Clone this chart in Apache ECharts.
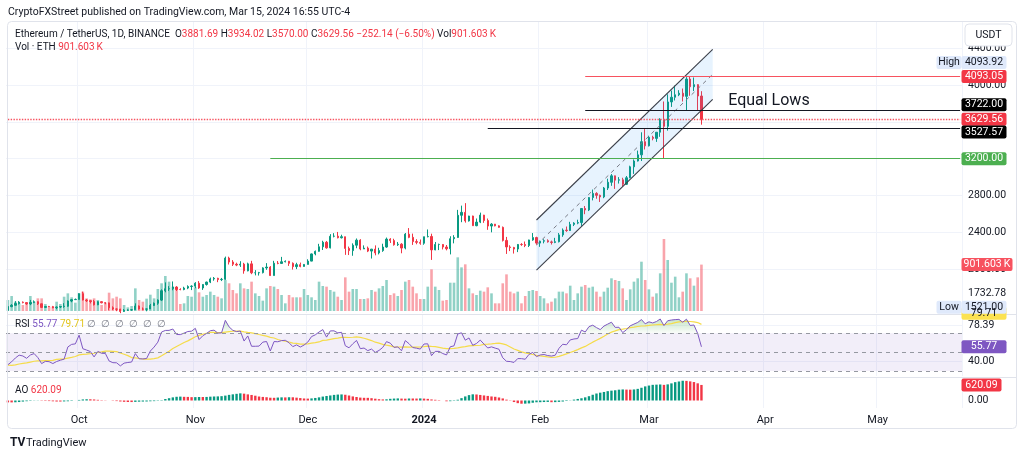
<!DOCTYPE html>
<html>
<head>
<meta charset="utf-8">
<script src="https://cdn.jsdelivr.net/npm/echarts@6/dist/echarts.min.js"></script>
<style>
  html, body { margin: 0; padding: 0; background: #fff; }
  #chart { width: 1024px; height: 458px; }
</style>
</head>
<body>
<div id="chart"></div>
<script>
// ETH/USDT daily, Binance, 12 Sep 2023 .. 15 Mar 2024 (open = previous close)
const closes = [
  1593,1607,1626,1641,1636,1622,1638,1645,1623,1584,1594,1592,1580,1588,1593,1597,1653,1668,1671,
  1733,1664,1656,1647,1612,1646,1634,1633,1580,1566,1565,1540,1553,1556,1558,1599,1566,1565,1567,1605,1629,1663,1765,1786,1787,1805,1779,1778,1794,1811,1815,
  1847,1795,1833,1859,1893,1900,1886,1889,2120,2077,2053,2044,2054,1981,2057,1960,1960,1962,2013,2022,1930,2064,2062,2080,2085,2063,2027,2048,2029,2051,
  2087,2165,2193,2243,2292,2231,2357,2358,2341,2352,2225,2201,2260,2315,2219,2228,2196,2217,2176,2201,2240,2326,2310,2265,2271,2229,2380,2345,2299,2291,2281,
  2352,2355,2209,2268,2268,2240,2221,2330,2344,2585,2617,2524,2577,2472,2511,2587,2528,2468,2489,2470,2454,2312,2241,2235,2218,2268,2267,2257,2317,2343,2283,
  2304,2309,2296,2290,2298,2372,2424,2419,2486,2500,2506,2659,2643,2778,2823,2802,2785,2881,2944,3014,2967,2971,2922,2993,3112,3175,3242,3385,3340,
  3433,3421,3488,3628,3552,3817,3868,3895,3912,3878,4066,3982,4005,3881.69,3629.56
];
const highs = [
  1621,1619,1652,1652,1648,1640,1665,1660,1650,1625,1600,1600,1600,1595,1598,1630,1660,1675,1680,
  1737,1755,1673,1660,1665,1652,1650,1640,1637,1595,1571,1569,1566,1563,1566,1628,1605,1583,1572,1622,1637,1671,1780,1856,1815,1866,1815,1792,1808,1824,1824,
  1858,1870,1836,1864,1908,1914,1906,1904,2136,2135,2098,2070,2086,2068,2070,2090,1989,1970,2020,2065,2032,2090,2088,2133,2095,2089,2073,2069,2071,2054,
  2107,2170,2202,2275,2308,2306,2380,2391,2404,2374,2352,2245,2280,2333,2325,2258,2245,2220,2258,2232,2276,2343,2336,2330,2295,2282,2392,2446,2386,2325,2322,
  2352,2431,2385,2295,2277,2272,2262,2357,2369,2644,2690,2717,2580,2581,2550,2614,2590,2550,2500,2491,2476,2463,2350,2259,2242,2273,2282,2300,2320,2392,2352,
  2310,2325,2324,2310,2340,2392,2442,2463,2514,2510,2537,2664,2686,2783,2865,2836,2810,2893,2983,3033,3016,3000,2993,3012,3124,3192,3288,3487,3522,
  3450,3450,3490,3640,3822,3900,3940,3995,3945,3963,4087,4093.92,4083,4010,3934.02
];
const lows = [
  1550,1585,1603,1615,1628,1612,1608,1630,1610,1580,1580,1588,1575,1564,1578,1580,1590,1640,1665,
  1669,1660,1643,1627,1605,1608,1628,1618,1553,1555,1543,1521,1535,1545,1548,1557,1560,1553,1542,1565,1600,1612,1653,1748,1763,1770,1762,1770,1770,1782,1772,
  1792,1785,1774,1821,1848,1874,1858,1870,1883,2050,2034,2032,2024,1950,1976,1945,1932,1930,1953,1992,1925,1930,2053,2060,2073,2035,1995,2000,2020,2027,
  2050,2085,2150,2190,2208,2222,2225,2345,2334,2333,2155,2153,2145,2227,2205,2218,2185,2115,2150,2160,2188,2232,2284,2255,2252,2172,2215,2336,2263,2270,2265,
  2265,2345,2100,2205,2207,2214,2204,2160,2280,2340,2510,2505,2517,2470,2466,2500,2503,2427,2400,2465,2450,2300,2165,2196,2169,2185,2253,2239,2240,2308,2265,
  2242,2280,2288,2267,2282,2290,2351,2405,2414,2468,2488,2470,2597,2631,2747,2765,2730,2771,2860,2905,2872,2930,2899,2914,2988,3035,3170,3175,3300,
  3333,3400,3383,3438,3200,3505,3763,3833,3880,3822,3722,3884,3935,3720,3570
];
// volume, thousand ETH
const volumes = [
  214,291,181,150,117,136,291,181,246,246,136,84,84,181,136,278,343,266,162,
  343,376,246,227,246,214,117,162,356,246,278,246,117,71,97,440,214,181,240,317,246,427,538,680,570,473,460,136,149,291,278,
  460,363,278,311,376,311,278,246,602,538,408,343,538,440,427,570,343,291,201,440,486,473,427,311,149,311,266,266,266,427,
  311,266,214,570,486,473,408,376,278,214,654,376,427,427,233,233,246,408,376,440,486,602,311,343,291,408,570,602,473,343,233,
  233,473,810,473,408,201,214,550,550,1043,848,907,440,343,311,395,376,460,343,149,149,538,712,376,343,376,149,291,389,408,389,
  291,246,149,181,246,376,376,343,492,214,343,473,505,453,473,376,278,376,453,635,602,583,440,214,421,570,635,958,602,
  421,278,343,732,1399,991,550,667,266,376,732,635,492,654,901.603
];
// 1 Aug .. 11 Sep 2023, only used so RSI and AO have history at the left edge
const warmCloses = [
  1868,1838,1834,1828,1834,1826,1825,1854,1854,1849,1850,1851,1843,1842,1826,1806,1685,1661,1681,1682,
  1667,1635,1686,1653,1646,1642,1657,1652,1729,1705,1646,1628,1636,1635,1629,1634,1636,1645,1635,1635,1617,1552
];
const warmHighs = [
  1873,1877,1847,1858,1841,1837,1839,1870,1872,1862,1855,1858,1855,1862,1847,1830,1810,1700,1690,1692,
  1684,1682,1700,1690,1660,1650,1663,1663,1745,1732,1719,1659,1646,1648,1642,1642,1660,1652,1660,1642,1636,1620
];
const warmLows = [
  1813,1825,1822,1819,1820,1819,1801,1824,1840,1842,1841,1846,1835,1832,1815,1800,1550,1627,1656,1666,
  1640,1550,1625,1640,1631,1635,1637,1633,1642,1700,1632,1610,1623,1627,1618,1605,1617,1620,1623,1629,1600,1530
];

// chart drawings
const rayStart = ['2023-11-21', '2024-01-18', '2024-02-13', '2024-02-13'];
const rayPrice = [3200, 3527.57, 3722, 4093.05];
const lastPrice = 3629.56;
const channelDates = ['2024-01-31', '2024-03-18'];
const channelUpper = [2534, 4389];
const channelLower = [1990, 3846];
const noteDate = '2024-04-02';
const notePrice = 3827;

const priceTicks = [1732.78, 2000, 2400, 2800, 3200, 3600, 4000, 4400];
const priceGrid = [2000, 2400, 2800, 3200, 3600, 4000, 4400];
const rsiTicks = [40, 78.39];
const monthNames = ['Jan','Feb','Mar','Apr','May','Jun','Jul','Aug','Sep','Oct','Nov','Dec'];

// category axis: one slot per day up to 23 May 2024
const dates = [];
for (let t = Date.UTC(2023, 8, 12); t <= Date.UTC(2024, 4, 23); t += 864e5) {
  dates.push(new Date(t).toISOString().slice(0, 10));
}

const FONT = "'Liberation Sans Narrow', Roboto, sans-serif";
const TXT = '#131722';
const UP = '#089981', DOWN = '#f23645';

const opens = closes.map((c, i) => i === 0 ? warmCloses[warmCloses.length - 1] : closes[i - 1]);
const candleData = closes.map((c, i) => [opens[i], c, lows[i], highs[i]]);
const volData = volumes.map((v, i) => ({
  value: v,
  itemStyle: { color: closes[i] >= opens[i] ? 'rgba(8,153,129,0.45)' : 'rgba(242,54,69,0.45)' }
}));

// indicators
function sma(src, n) {
  return src.map((v, i) => {
    if (i < n - 1) return null;
    let s = 0;
    for (let k = i - n + 1; k <= i; k++) { if (src[k] == null) return null; s += src[k]; }
    return s / n;
  });
}
function rsi(src, n) {
  const out = src.map(() => null);
  let up = 0, dn = 0;
  for (let i = 1; i <= n; i++) {
    const ch = src[i] - src[i - 1];
    up += Math.max(ch, 0); dn += Math.max(-ch, 0);
  }
  up /= n; dn /= n;
  out[n] = 100 - 100 / (1 + up / dn);
  for (let i = n + 1; i < src.length; i++) {
    const ch = src[i] - src[i - 1];
    up = (up * (n - 1) + Math.max(ch, 0)) / n;
    dn = (dn * (n - 1) + Math.max(-ch, 0)) / n;
    out[i] = dn === 0 ? 100 : 100 - 100 / (1 + up / dn);
  }
  return out;
}
const off = warmCloses.length;
const allClose = warmCloses.concat(closes);
const allHigh = warmHighs.concat(highs);
const allLow = warmLows.concat(lows);
const hl2 = allHigh.map((h, i) => (h + allLow[i]) / 2);
const rsiAll = rsi(allClose, 14);
const rsiMaAll = sma(rsiAll, 14);
const s5 = sma(hl2, 5), s34 = sma(hl2, 34);
const aoAll = hl2.map((v, i) => s5[i] == null || s34[i] == null ? null : s5[i] - s34[i]);

const rsiVals = rsiAll.slice(off);
const rsiMa = rsiMaAll.slice(off);
const obBase = rsiVals.map(() => 70);
const obFill = rsiVals.map(v => Math.max(0, v - 70));
const aoData = aoAll.slice(off).map((v, i) => ({
  value: v,
  itemStyle: { color: v >= aoAll[off + i - 1] ? UP : DOWN }
}));

const L = 6, W = 956;
const isMonthStart = (i, v) => v.slice(8) === '01';
function xAxis(gridIndex, showLabel, showSplit) {
  return {
    type: 'category', gridIndex, data: dates, boundaryGap: true,
    axisLine: { show: false }, axisTick: { show: false },
    axisLabel: {
      show: showLabel, interval: isMonthStart, margin: 7, color: TXT, fontSize: 11, fontFamily: FONT,
      formatter: v => v === '2024-01-01' ? '{y|2024}' : monthNames[+v.slice(5, 7) - 1],
      rich: { y: { fontWeight: 'bold', color: TXT, fontSize: 11, fontFamily: FONT } }
    },
    splitLine: { show: showSplit, interval: isMonthStart, lineStyle: { color: '#f0f3fa' } }
  };
}
function yAxis(gridIndex, min, max, ticks, grid, show) {
  return {
    type: 'value', gridIndex, position: 'right', min, max, show,
    axisLine: { show: false },
    axisTick: { show: false, customValues: grid },
    splitLine: { show: grid.length > 0, lineStyle: { color: '#f0f3fa' } },
    axisLabel: {
      customValues: ticks, formatter: v => v.toFixed(2), margin: 6,
      color: TXT, fontSize: 10.5, fontFamily: FONT
    }
  };
}

const rayStyle = [
  { color: '#4caf50', width: 1.2, type: 'solid' },
  { color: '#131722', width: 1.2, type: 'solid' },
  { color: '#131722', width: 1.2, type: 'solid' },
  { color: '#f7525f', width: 1.2, type: 'solid' }
];
const lastDate = dates[dates.length - 1];
const rayLines = rayStart.map((s, k) => [
  { coord: [s, rayPrice[k]], lineStyle: rayStyle[k] },
  { coord: [lastDate, rayPrice[k]] }
]);
rayLines.push([
  { coord: [dates[0], lastPrice], lineStyle: { color: '#f7525f', width: 1.4, type: 'dotted' } },
  { coord: [lastDate, lastPrice] }
]);

const chart = echarts.init(document.getElementById('chart'));
chart.setOption({
  animation: false,
  grid: [
    { left: L, width: W, top: 22, height: 291 },
    { left: L, width: W, top: 22, height: 289 },
    { left: L, width: W, top: 315, height: 61 },
    { left: L, width: W, top: 378, height: 30 }
  ],
  xAxis: [xAxis(0, false, true), xAxis(1, false, false), xAxis(2, false, true), xAxis(3, true, true)],
  yAxis: [
    yAxis(0, 1523, 4686, priceTicks, priceGrid, true),
    yAxis(1, 0, 5615, [], [], false),
    yAxis(2, 24.69, 89.42, rsiTicks, rsiTicks, true),
    yAxis(3, -300, 900, [0], [], true)
  ],
  series: [
    {
      type: 'bar', xAxisIndex: 1, yAxisIndex: 1, data: volData, barWidth: 2.6, z: 1, silent: true
    },
    {
      type: 'candlestick', xAxisIndex: 0, yAxisIndex: 0, data: candleData, barWidth: 1.8, z: 3,
      itemStyle: { color: UP, color0: DOWN, borderColor: UP, borderColor0: DOWN, borderWidth: 1 },
      markLine: {
        silent: true, symbol: 'none', label: { show: false }, data: rayLines
      }
    },
    {
      type: 'custom', xAxisIndex: 0, yAxisIndex: 0, z: 4, silent: true,
      data: [[dates.indexOf(channelDates[0]), channelLower[0]]],
      renderItem: (params, api) => {
        const i0 = dates.indexOf(channelDates[0]), i1 = dates.indexOf(channelDates[1]);
        const a = api.coord([i0, channelUpper[0]]), b = api.coord([i1, channelUpper[1]]);
        const c = api.coord([i1, channelLower[1]]), d = api.coord([i0, channelLower[0]]);
        const m0 = api.coord([i0, (channelUpper[0] + channelLower[0]) / 2]);
        const m1 = api.coord([i1, (channelUpper[1] + channelLower[1]) / 2]);
        const n = api.coord([dates.indexOf(noteDate), notePrice]);
        return {
          type: 'group',
          children: [
            { type: 'polygon', shape: { points: [a, b, c, d] }, style: { fill: 'rgba(33,150,243,0.11)' } },
            { type: 'line', shape: { x1: a[0], y1: a[1], x2: b[0], y2: b[1] }, style: { stroke: '#3a3e48', lineWidth: 1.1 } },
            { type: 'line', shape: { x1: d[0], y1: d[1], x2: c[0], y2: c[1] }, style: { stroke: '#3a3e48', lineWidth: 1.1 } },
            { type: 'line', shape: { x1: m0[0], y1: m0[1], x2: m1[0], y2: m1[1] }, style: { stroke: '#787b86', lineWidth: 1, lineDash: [4, 4] } },
            {
              type: 'text', x: n[0], y: n[1],
              style: { text: 'Equal Lows', fill: TXT, font: '16px ' + FONT, align: 'center', verticalAlign: 'middle' }
            }
          ]
        };
      }
    },
    {
      type: 'line', xAxisIndex: 2, yAxisIndex: 2, data: obBase, stack: 'ob', symbol: 'none',
      lineStyle: { opacity: 0 }, silent: true, z: 1
    },
    {
      type: 'line', xAxisIndex: 2, yAxisIndex: 2, data: obFill, stack: 'ob', symbol: 'none',
      lineStyle: { opacity: 0 }, silent: true, z: 2,
      areaStyle: {
        color: new echarts.graphic.LinearGradient(0, 0, 0, 1, [
          { offset: 0, color: 'rgba(76,175,80,0.45)' },
          { offset: 1, color: 'rgba(76,175,80,0.04)' }
        ])
      }
    },
    {
      type: 'line', xAxisIndex: 2, yAxisIndex: 2, data: rsiMa, symbol: 'none', silent: true, z: 3,
      lineStyle: { color: '#f5dc4a', width: 1.2 },
      markLine: {
        silent: true, symbol: 'none', label: { show: false },
        lineStyle: { color: '#9598a1', width: 1, type: [4, 4] },
        data: [70, 50, 30].map(v => ({ yAxis: v }))
      },
      markArea: {
        silent: true, itemStyle: { color: 'rgba(126,87,194,0.1)' },
        data: [[{ yAxis: 70 }, { yAxis: 30 }]]
      }
    },
    {
      type: 'line', xAxisIndex: 2, yAxisIndex: 2, data: rsiVals, symbol: 'none', silent: true, z: 4,
      lineStyle: { color: '#7e57c2', width: 1 }
    },
    {
      type: 'bar', xAxisIndex: 3, yAxisIndex: 3, data: aoData, barWidth: 2.4, silent: true
    }
  ]
});

// overlay texts and price-scale tags
const py = (axis, v) => chart.convertToPixel({ yAxisIndex: axis }, v);
const TX = 961.5;
function txt(x, y, text, opts) {
  return {
    type: 'text', z: 101,
    style: Object.assign({
      text, x, y, fill: TXT, font: '10px ' + FONT, align: 'left', verticalAlign: 'middle'
    }, opts || {})
  };
}
function tag(x, y, w, text, bg, fg) {
  return [
    { type: 'rect', z: 100, shape: { x, y: y - 6.5, width: w, height: 13, r: 2 }, style: { fill: bg } },
    txt(x + w / 2, y, text, { fill: fg, font: '10.5px ' + FONT, align: 'center' })
  ];
}
const rich = {
  d: { fill: TXT, font: '10px ' + FONT }, r: { fill: '#f23645', font: '10px ' + FONT },
  p: { fill: '#7e57c2', font: '10px ' + FONT }, y: { fill: '#e2c51c', font: '10px ' + FONT },
  n: { fill: '#787b86', font: '10px ' + FONT }
};
const hiY = py(0, 4093.92) - 14, loY = py(0, 1521) - 6;
const lightTag = '#dfe9fb';
const g = [
  { type: 'rect', z: 90, shape: { x: 7.5, y: 21.5, width: 1009, height: 407, r: 4 }, style: { fill: 'none', stroke: '#e0e3eb', lineWidth: 1 } },
  { type: 'line', z: 90, shape: { x1: 7.5, y1: 314.5, x2: 1016.5, y2: 314.5 }, style: { stroke: '#e0e3eb', lineWidth: 1 } },
  { type: 'line', z: 90, shape: { x1: 7.5, y1: 377.5, x2: 1016.5, y2: 377.5 }, style: { stroke: '#e0e3eb', lineWidth: 1 } },
  { type: 'rect', z: 100, shape: { x: 965, y: 24, width: 47, height: 22, r: 4 }, style: { fill: '#fff', stroke: '#e0e3eb', lineWidth: 1 } },
  txt(988.5, 35, 'USDT', { align: 'center', font: '10.5px ' + FONT }),
  txt(8, 12, 'CryptoFXStreet published on TradingView.com, Mar 15, 2024 16:55 UTC-4', { font: '10.5px ' + FONT }),
  txt(15, 34, '{d|Ethereum / TetherUS, 1D, BINANCE}  {d|O}{r|3881.69} {d|H}{r|3934.02} {d|L}{r|3570.00} {d|C}{r|3629.56} {r|\u2212252.14 (\u22126.50%)} {d|Vol}{r|901.603\u2009K}', { rich }),
  txt(15, 47, '{d|Vol \u00b7 ETH} {r|901.603\u2009K}', { rich }),
  txt(15, 324, '{d|RSI} {p|55.77} {y|79.71} {n|\u2205  \u2205  \u2205  \u2205  \u2205  \u2205}', { rich }),
  txt(15, 390, '{d|AO} {r|620.09}', { rich }),
  txt(10, 443, 'TV', { font: 'bold 12px ' + FONT }),
  txt(26, 443, 'TradingView', { font: '11px ' + FONT })
];
g.push(...tag(TX, py(0, 4093.05), 45, '4093.05', '#f23645', '#fff'));
g.push(...tag(TX - 25, hiY, 25, 'High', lightTag, TXT));
g.push(...tag(TX, hiY, 45, '4093.92', lightTag, TXT));
g.push(...tag(TX, py(0, 3722) - 6, 45, '3722.00', '#000', '#fff'));
g.push(...tag(TX, py(0, lastPrice), 45, '3629.56', '#f23645', '#fff'));
g.push(...tag(TX, py(0, 3527.57) + 3.5, 45, '3527.57', '#000', '#fff'));
g.push(...tag(TX, py(0, 3200), 45, '3200.00', '#4caf50', '#fff'));
g.push(...tag(TX, py(1, 901.603), 51, '901.603\u2009K', '#f7525f', '#fff'));
g.push(...tag(TX, py(2, 79.71) - 11, 45, '79.71', '#fbe251', TXT));
g.push(...tag(TX - 25, loY, 25, 'Low', lightTag, TXT));
g.push(...tag(TX, loY, 45, '1521.00', lightTag, TXT));
g.push(...tag(TX, py(2, 55.77), 45, '55.77', '#7e57c2', '#fff'));
g.push(...tag(TX, py(3, 620.09), 40, '620.09', '#f23645', '#fff'));
chart.setOption({ graphic: g });
</script>
</body>
</html>
